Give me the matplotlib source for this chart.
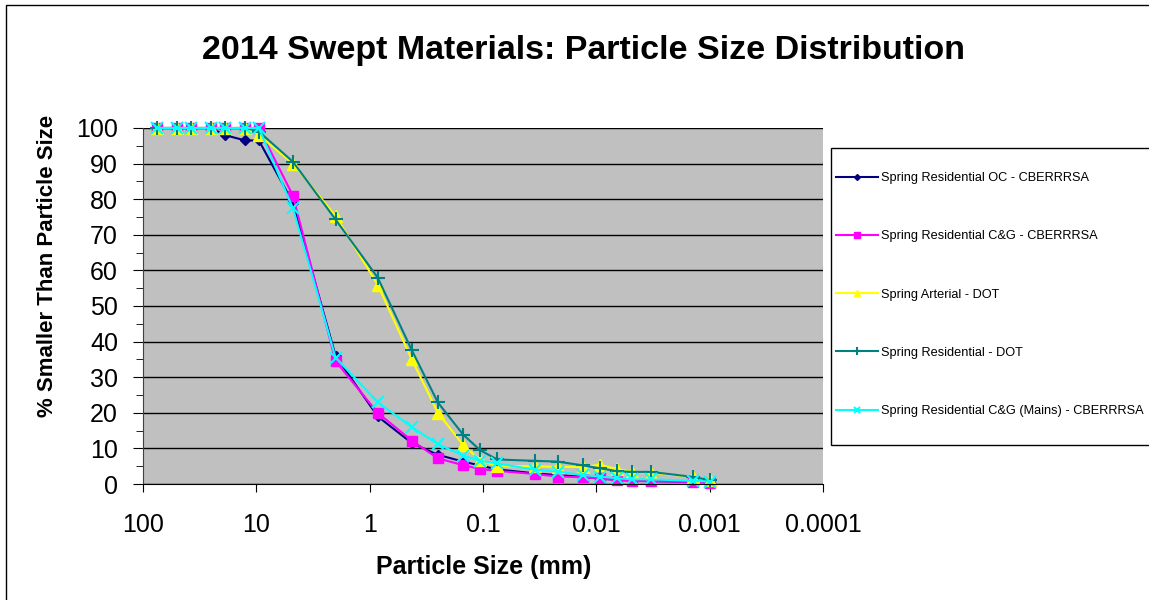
import matplotlib
matplotlib.use('Agg')
import matplotlib.pyplot as plt
from matplotlib.patches import Rectangle
from matplotlib.ticker import FixedLocator, MultipleLocator, NullLocator

plt.rcParams['font.family'] = ['Liberation Sans', 'DejaVu Sans']

# particle sizes (mm): sieves then hydrometer readings
sizes = [75, 50, 37.5, 25, 19, 12.5, 9.5, 4.75, 2.0, 0.85, 0.425, 0.25, 0.15,
         0.106, 0.075, 0.035, 0.022, 0.013, 0.0093, 0.0066, 0.0048, 0.0033,
         0.0014, 0.001]

res_oc = [100, 100, 100, 100, 98, 96.5, 96.5, 79, 36, 19, 11.5, 8.2, 6.3,
          5.2, 4.1, 3.0, 2.5, 2.0, 1.5, 1.2, 1.0, 0.8, 0.6, 0.5]
res_cg = [100, 100, 100, 100, 100, 100, 100, 81, 34.5, 20, 12.2, 7.2, 5.3,
          4.2, 3.7, 2.8, 2.1, 1.9, 1.6, 1.1, 0.8, 0.8, 0.6, 0.4]
arterial_dot = [100, 100, 100, 100, 100, 100, 98, 90, 75.3, 56, 35, 20, 11,
                6.7, 5.0, 5.0, 4.8, 4.8, 5.4, 4.2, 3.4, 3.2, 2.0, 1.2]
res_dot = [100, 100, 100, 100, 100, 100, 99, 90.5, 74.3, 58, 37.6, 22.9, 13.9,
           9.5, 6.9, 6.5, 6.3, 5.2, 4.4, 3.6, 3.4, 3.4, 2.0, 1.1]
res_cg_mains = [100, 100, 100, 100, 100, 100, 100, 77.4, 35.5, 23, 16, 11.2, 8.0,
                6.5, 5.8, 4.0, 3.5, 2.5, 2.1, 1.6, 1.3, 1.3, 0.9, 0.7]

labels = ['Spring Residential OC - CBERRRSA',
          'Spring Residential C&G - CBERRRSA',
          'Spring Arterial - DOT',
          'Spring Residential - DOT',
          'Spring Residential C&G (Mains) - CBERRRSA']

xticks = [100, 10, 1, 0.1, 0.01, 0.001, 0.0001]
xtick_labels = ['100', '10', '1', '0.1', '0.01', '0.001', '0.0001']

W, H = 1149, 600
fig = plt.figure(figsize=(W / 100, H / 100), dpi=100)
ax = fig.add_axes([143 / W, 1 - 484 / H, 680 / W, 356 / H])
ax.set_facecolor('#c0c0c0')

styles = [
    dict(color='#000080', marker='D', ms=5),
    dict(color='#ff00ff', marker='s', ms=7),
    dict(color='#ffff00', marker='^', ms=8),
    dict(color='#008080', marker='+', ms=10, mew=1.5),
    dict(color='#00ffff', marker='x', ms=8, mew=1.5),
]
series = [res_oc, res_cg, arterial_dot, res_dot, res_cg_mains]
for vals, lab, st in zip(series, labels, styles):
    ax.plot(sizes, vals, lw=1.5, label=lab, clip_on=False, **st)

ax.set_xscale('log')
ax.set_xlim(100, 0.0001)
ax.set_ylim(0, 100)
ax.xaxis.set_major_locator(FixedLocator(xticks))
ax.set_xticklabels(xtick_labels)
ax.xaxis.set_minor_locator(NullLocator())
ax.yaxis.set_major_locator(MultipleLocator(10))
ax.yaxis.set_minor_locator(MultipleLocator(5))
ax.grid(axis='y', which='major', color='black', lw=1)
ax.set_axisbelow(True)
for s in ['top', 'right']:
    ax.spines[s].set_visible(False)
ax.spines['left'].set_color('#404040')
ax.spines['bottom'].set_color('black')
ax.tick_params(axis='x', which='major', direction='out', length=6, pad=15, labelsize=18)
ax.tick_params(axis='y', which='major', direction='out', length=7, pad=11, labelsize=18)
ax.tick_params(axis='y', which='minor', direction='out', length=5)

fig.text(583 / W, 1 - 50 / H, '2014 Swept Materials: Particle Size Distribution',
         ha='center', va='center', fontsize=24.5, fontweight='bold')
fig.text(48 / W, 1 - 266 / H, '% Smaller Than Particle Size', rotation=90,
         ha='center', va='center', fontsize=16, fontweight='bold')
fig.text(484 / W, 1 - 567 / H, 'Particle Size (mm)',
         ha='center', va='center', fontsize=18, fontweight='bold')

# legend entries without frame, frame drawn as a separate box
leg = fig.legend(loc='upper left', bbox_to_anchor=(836 / W, 1 - 172 / H),
                 fontsize=9.2, frameon=False, handlelength=3.3, handletextpad=0.25,
                 labelspacing=3.62, borderpad=0, borderaxespad=0, markerscale=0.6)
fig.add_artist(Rectangle((831 / W, 1 - 445 / H), 0.5, 297 / H, transform=fig.transFigure,
                         fill=True, facecolor='white', edgecolor='black', lw=1, zorder=0))

fig.add_artist(Rectangle((6 / W, -0.1), 1.2, 1.1 - 5 / H, transform=fig.transFigure,
                         fill=False, edgecolor='black', lw=1))

fig.savefig('out.png', dpi=100)
